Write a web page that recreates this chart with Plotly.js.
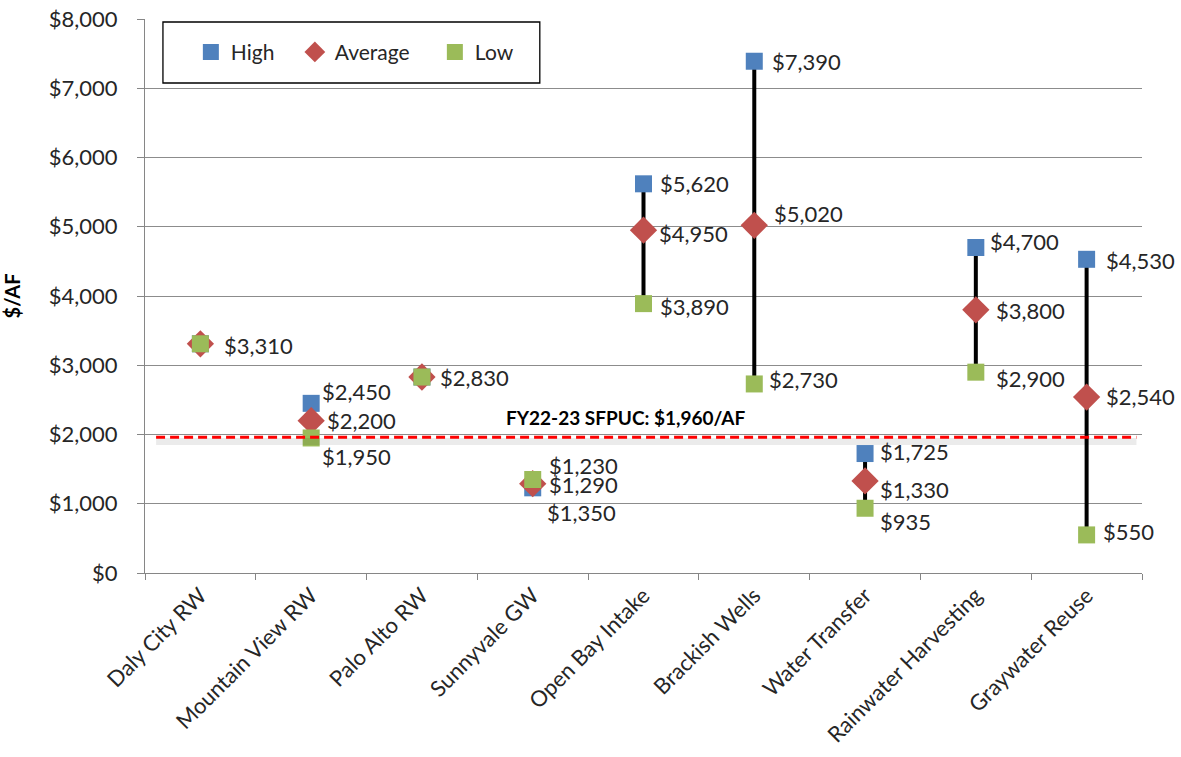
<!DOCTYPE html>
<html><head><meta charset="utf-8">
<script src="https://cdn.plot.ly/plotly-3.0.1.min.js"></script>
<style>html,body{margin:0;padding:0;background:#fff}</style>
</head><body><div id="chart" style="width:1181px;height:757px"></div>
<script>
const categories = ["Daly City RW", "Mountain View RW", "Palo Alto RW", "Sunnyvale GW", "Open Bay Intake", "Brackish Wells", "Water Transfer", "Rainwater Harvesting", "Graywater Reuse"];
const highValues = [3310, 2450, 2830, 1230, 5620, 7390, 1725, 4700, 4530];
const averageValues = [3310, 2200, 2830, 1290, 4950, 5020, 1330, 3800, 2540];
const lowValues = [3310, 1950, 2830, 1350, 3890, 2730, 935, 2900, 550];
const referenceValue = 1960;
const referenceLabel = "FY22-23 SFPUC: $1,960/AF";
const seriesNames = ["High", "Average", "Low"];
const yTickValues = [0, 1000, 2000, 3000, 4000, 5000, 6000, 7000, 8000];

// label placement (style only): [xshift px, yshift px], null = label not shown
const highLabelShift = [null, [9, 12], null, [14, 22], [14, 0], [16, 0], [13, 2], [12, 6], [17, -1]];
const avgLabelShift = [[22, -2], [14, 0], [16, 0], [14, -1], [13, -3], [18, 12], [13, -9], [18, -1], [17, 1]];
const lowLabelShift = [null, [9, -19], null, [12, -33], [14, -3], [13, 4], [13, -13], [18, -6], [14, 3]];

const FONT = "Lato, 'Open Sans', sans-serif";
const TXT = "#262626";
const BLUE = "#4F81BD", RED = "#C0504D", GREEN = "#9BBB59";

const fmt = v => "$" + v.toLocaleString("en-US");

// hi-lo connector lines
const lx = [], ly = [];
categories.forEach((c, i) => { lx.push(c, c, null); ly.push(highValues[i], lowValues[i], null); });

const traces = [
  {x: lx, y: ly, mode: "lines", line: {color: "#000", width: 4}, showlegend: false, hoverinfo: "skip"},
  {x: categories, y: highValues, name: seriesNames[0], mode: "markers", legendwidth: 59,
   marker: {symbol: "square", size: 17, color: BLUE}},
  {x: categories, y: averageValues, name: seriesNames[1], mode: "markers", legendwidth: 95,
   marker: {symbol: "diamond", size: 21, color: RED}},
  {x: categories, y: lowValues, name: seriesNames[2], mode: "markers",
   marker: {symbol: "square", size: 17, color: GREEN}}
];

const annotations = [];
[[highValues, highLabelShift], [averageValues, avgLabelShift], [lowValues, lowLabelShift]].forEach(([vals, shifts]) => {
  vals.forEach((v, i) => {
    if (!shifts[i]) return;
    annotations.push({x: categories[i], y: v, xref: "x", yref: "y", text: fmt(v), showarrow: false,
      xanchor: "left", yanchor: "middle", xshift: shifts[i][0], yshift: shifts[i][1],
      font: {family: FONT, size: 22, color: TXT}});
  });
});
annotations.push({x: 4.93, y: referenceValue, xref: "x", yref: "y", text: "<b>" + referenceLabel + "</b>",
  showarrow: false, xanchor: "right", yanchor: "bottom", yshift: 6,
  font: {family: FONT, size: 19, color: "#000"}});

const shapes = [
  {type: "line", xref: "x", yref: "y", x0: -0.4, x1: 8.45, y0: referenceValue - 60, y1: referenceValue - 60,
   line: {color: "rgba(0,0,0,0.08)", width: 7}, layer: "above"},
  {type: "line", xref: "x", yref: "y", x0: -0.4, x1: 8.45, y0: referenceValue, y1: referenceValue,
   line: {color: "#FF0000", width: 3, dash: "9px,5px"}, layer: "above"},
  {type: "rect", xref: "paper", yref: "paper", x0: 0.018, x1: 0.396, y0: 0.8845, y1: 0.9946,
   line: {color: "#000", width: 1.3}, fillcolor: "rgba(0,0,0,0)", layer: "above"}
];

const layout = {
  width: 1181, height: 757,
  margin: {l: 145, r: 39, t: 19, b: 184},
  paper_bgcolor: "#fff", plot_bgcolor: "#fff",
  font: {family: FONT, size: 22, color: TXT},
  showlegend: true,
  legend: {orientation: "h", x: 0.046, xanchor: "left", y: 0.94, yanchor: "middle",
    font: {family: FONT, size: 21, color: TXT}, bgcolor: "rgba(0,0,0,0)", borderwidth: 0},
  xaxis: {type: "category", categoryarray: categories, range: [-0.5, 8.5], showgrid: false,
    showline: true, linecolor: "#868686", linewidth: 1, ticks: "outside", tickson: "boundaries",
    ticklen: 6, tickcolor: "#868686", tickangle: -45, tickfont: {family: FONT, size: 22, color: TXT}, zeroline: false},
  yaxis: {range: [0, 8000], tickmode: "array", tickvals: yTickValues, ticktext: yTickValues.map(fmt), showgrid: true,
    gridcolor: "#8c8c8c", gridwidth: 1, showline: true, linecolor: "#868686", linewidth: 1,
    ticks: "outside", ticklen: 7, tickcolor: "#868686", ticklabelstandoff: 15, zeroline: false,
    tickfont: {family: FONT, size: 22, color: TXT},
    title: {text: "<b>$/AF</b>", font: {family: FONT, size: 20, color: "#000"}, standoff: 22}},
  annotations: annotations,
  shapes: shapes
};

Plotly.newPlot("chart", traces, layout, {displayModeBar: false, staticPlot: true});
</script></body></html>
